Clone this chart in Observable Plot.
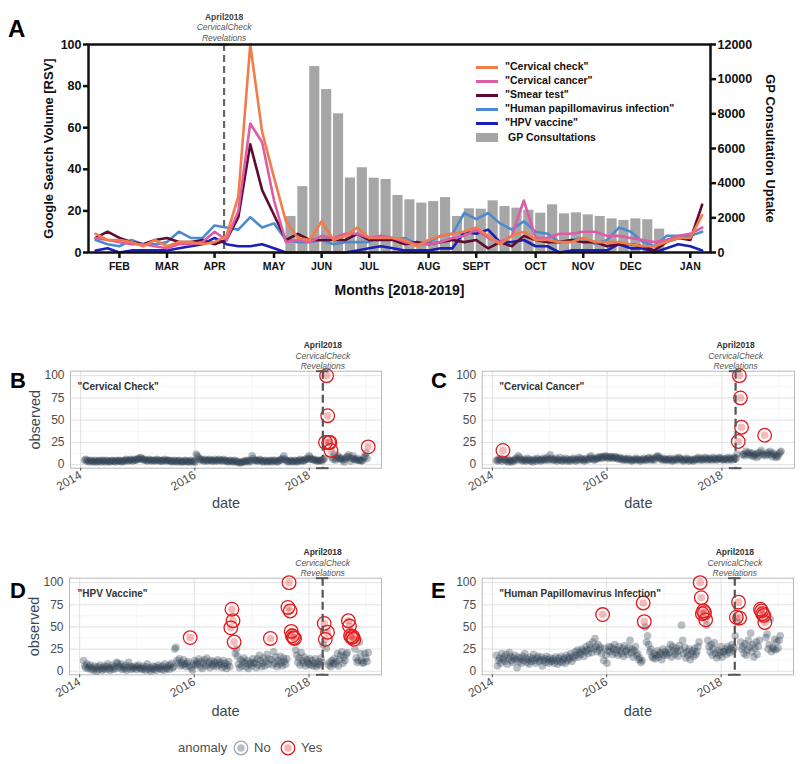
<!DOCTYPE html>
<html><head><meta charset="utf-8">
<script src="https://cdn.jsdelivr.net/npm/d3@7"></script>
<script src="https://cdn.jsdelivr.net/npm/@observablehq/plot@0.6"></script>
<style>
body{margin:0;background:#fff;}
#root{position:relative;width:800px;height:764px;background:#fff;font-family:"Liberation Sans",Arial,Helvetica,sans-serif;overflow:hidden}
.abs{position:absolute;white-space:nowrap;line-height:1}
</style></head><body><div id="root"></div>
<script>
// ---------- Panel A data (weekly, 2018-2019) ----------
const seriesNames = ['"Cervical check"', '"Cervical cancer"', '"Smear test"', '"Human papillomavirus infection"', '"HPV vaccine"'];
const seriesColors = ["#F37B4A", "#DE5BA6", "#5E0B32", "#4C8BD0", "#1B1FB5"];
const cervicalCheck = [9,6,6,5,3,6,3,5,5,4,5,8, 27,100,58,36,15, 7,6,15,6,8,12,7,7,7,6,3,6,8,9,10,12,8,4,8,10,6,6,5,5,7,5,5,5,4,3,3,5,7,7,18];
const cervicalCancer = [7,6,5,4,4,3,2,4,4,5,10,6, 20,62,53,25,5, 6,5,8,7,9,9,7,8,7,5,4,4,5,7,8,11,7,5,8,25,7, 7,9,9,10,10,8,8,7,6,5,6,8,9,12];
const smearTest = [7,10,7,5,4,6,7,5,5,6,4,6, 17,52,30,18,6, 9,6,6,6,6,9,6,6,6,4,5,4,5,6,5,6,2,5,3,8,6,5,5,6,5,5,3,4,4,3,1,5,7,6,23];
const hpvInfection = [6,4,3,6,4,4,5,10,7,7,13,12, 11,17,12,14,6, 5,5,6,4,5,5,5,8,6,7,4,5,8,9,19,16,19,14,11,15,10,9,5,6,7,4,6,12,10,5,3,8,8,8,10];
const hpvVaccine = [1,2,0,1,1,1,1,2,3,4,7,4, 3,3,4,2,0, 0,0,0,0,0,1,2,3,2,1,1,1,2,2,10,9,11,5,5,6,3,3,0,1,1,1,1,4,2,2,0,2,4,3,1];
const gpLabel = "GP Consultations";
const gpStartWeek = 16;
const gpConsultations = [2080,3800,10730,9400,8000,4300,4890,4290,4210,3290,3040,2850,2940,3170,2080,2520,2500,2980,2650,2560,2440,2270,2750,2230,2290,2170,2080,1940,1850,1940,1890,1350];
const monthLabels = ["FEB","MAR","APR","MAY","JUN","JUL","AUG","SEPT","OCT","NOV","DEC","JAN"];
const monthWeeks = [2,6,10,15,19,23,28,32,37,41,45,50];
const rsvTicks = [0,20,40,60,80,100];
const gpTicks = [0,2000,4000,6000,8000,10000,12000];
const aprilWeek = 10.8;
const annotationLines = ["April2018", "CervicalCheck", "Revelations"];

// ---------- Panels B-E data (weekly Google Trends, 2014-2019) ----------
const trendStart = new Date(Date.UTC(2014, 0, 26));
const eventDate = new Date(Date.UTC(2018, 2, 29));
const cervicalCheckTrend = [
  5,6,4,5,3,4,5,4,3,4,5,3,4, 4,5,3,4,5,4,3,5,4,4,3,4,5, 4,4,3,5,4,4,5,4,3,4,5,4,6, 5,4,5,6,5,4,6,5,5,6,7,6,8,
  7,6,5,6,5,4,5,6,5,4,5,5,4, 5,6,5,4,5,4,4,5,6,4,5,5,4, 5,4,3,4,5,4,3,4,5,4,3,4,3, 4,5,4,3,4,3,5,4,3,4,3,12,10,
  8,6,5,6,5,4,6,5,4,5,6,5,4, 5,4,6,5,4,5,6,5,4,5,6,4,5, 4,3,4,5,4,3,4,5,3,4,3,2,3, 2,3,4,3,4,5,4,3,5,4,10,7,5,
  5,4,5,4,6,5,4,3,4,5,4,3,4, 5,4,3,5,4,5,4,3,4,5,6,5,7, 10,6,5,4,3,4,5,4,3,4,5,4,3, 4,5,6,4,5,4,5,6,7,6,10,8,6,
  6,5,6,5,4,5,4,5,5,4,6,7,25, 100,55,25,25,16,8,6,12,5,7,10,7,8, 6,7,5,3,6,8,9,11,8,4,7,10,6, 6,5,7,5,5,5,4,5,8,9,13,7,20];
const cervicalCheckAnomalies = [220,221,222,223,224,225,259];
const cervicalCancerTrend = [
  5,4,6,5,7,4,16,6,5,4,6,3,5, 4,3,5,4,6,7,5,10,8,6,5,4,6, 5,4,7,5,6,4,5,3,6,5,4,7,6, 5,4,6,5,7,5,6,8,5,6,11,7,5,
  6,5,7,4,6,5,8,5,4,6,5,7,4, 6,5,4,6,5,7,6,4,5,6,8,5,7, 6,5,4,6,7,5,6,8,10,7,6,5,7, 6,8,7,9,8,7,9,8,10,9,8,7,9,
  8,9,7,8,9,8,7,6,8,7,6,5,7, 6,5,6,7,5,6,4,5,6,5,7,6,5, 6,4,5,6,7,5,6,5,7,8,6,5,7, 6,5,8,9,10,8,7,6,5,7,6,5,6,
  5,6,7,5,4,6,5,7,6,5,8,7,6, 5,4,6,5,7,6,4,5,6,5,4,6,5, 7,6,8,5,6,7,5,6,8,7,5,6,7, 6,5,8,6,7,5,6,7,8,6,7,5,6,
  6,7,5,8,6,7,5,6,8,7,7,12,26, 100,75,42,11,12,10,15,13,11,14,12,10,13, 9,11,12,8,13,10,14,16,12,11,33,10,12, 14,11,15,12,9,13,11,8,10,9,12,14,15];
const cervicalCancerAnomalies = [6,220,221,222,223,244];
const hpvVaccineTrend = [
  12,6,4,8,3,5,7,2,4,1,6,3,0, 5,2,7,4,1,3,6,2,5,8,3,1,4, 7,2,5,3,10,9,6,4,8,2,5,3,7, 1,4,10,6,2,5,3,4,6,2,5,7,3,
  4,2,6,3,1,5,8,2,4,0,3,6,2, 5,1,4,7,3,5,2,6,1,8,4,3,6, 2,7,9,4,5,25,27,12,9,14,6,10,7, 13,8,5,9,11,6,38,4,1,8,12,7,10,
  8,14,5,11,3,9,13,6,15,7,10,4,12, 8,6,11,9,5,13,7,10,8,4,12,6,9, 3,7,11,5,49,70,57,33,20,25,17,8,4, 13,6,11,15,9,5,12,3,8,10,6,14,9,
  10,4,14,7,18,12,5,9,15,6,11,19,8, 14,37,13,7,22,9,16,5,12,8,17,10,6, 15,11,8,14,72,100,68,45,40,38,37,24,18, 10,15,7,21,12,9,16,6,13,10,8,14,7,
  12,6,9,14,5,8,11,7,15,10,30,54,36, 26,44,7,10,5,12,9,14,8,11,20,6,13, 18,22,9,16,12,19,21,57,51,40,38,39,36, 25,15,10,12,33,20,12,9,10,20,15,11,21];
const hpvVaccineAnomalies = [97,134,135,136,137,170,186,187,188,189,190,191,192,219,220,222,241,242,243,244,245,246];
const hpvInfectionTrend = [
  18,6,12,15,9,20,13,16,11,19,8,14,21, 17,12,10,15,18,13,4,16,11,14,9,17,12, 20,15,10,13,8,16,11,14,19,12,9,15,17, 11,13,16,6,12,14,10,17,13,9,15,11,12,
  14,9,16,12,8,15,11,17,10,13,15,9,18, 12,16,14,20,11,17,15,22,18,24,16,21,19, 25,23,17,22,28,24,20,30,26,21,33,25,37, 28,22,30,24,27,20,64,12,26,18,9,23,28,
  22,27,19,25,30,21,24,18,28,23,20,26,17, 29,22,24,19,27,35,21,25,16,23,28,18,20, 13,15,10,12,77,56,50,33,40,30,22,25,17, 15,20,14,18,23,16,19,21,13,25,18,22,20,
  18,25,21,30,16,28,23,19,26,22,17,29,24, 52,35,20,27,15,22,18,25,13,20,23,17,26, 19,22,28,33,100,83,65,68,66,58,52,35,28, 22,30,18,25,32,20,15,24,18,21,28,16,22,
  22,25,19,28,24,21,26,30,23,27,40,61,55, 78,60,33,25,28,20,31,18,24,35,27,43,22, 30,16,26,33,19,28,35,70,68,65,63,55,38, 42,25,30,59,22,27,25,36,24,33,26,35,40];
const hpvInfectionAnomalies = [97,134,135,186,187,188,189,190,191,219,221,222,241,242,243,244,245];
const trendYTicks = [0,25,50,75,100];
const trendYMinor = [12.5,37.5,62.5,87.5];
const trendYears = [2014,2016,2018];
const trendYearsMinor = [2015,2017,2019];
const legendTitle = "anomaly";
const legendLabels = ["No","Yes"];

// ---------- layout helpers ----------
const root = document.getElementById("root");
const FONT = '"Liberation Sans", Arial, Helvetica, sans-serif';
function place(el, left, top) {
  el.style.position = "absolute"; el.style.left = left + "px"; el.style.top = top + "px";
  el.style.overflow = "visible"; root.appendChild(el); return el;
}
function label(text, left, top, css) {
  const d = document.createElement("div"); d.className = "abs"; d.textContent = text;
  d.style.left = left + "px"; d.style.top = top + "px"; Object.assign(d.style, css || {});
  root.appendChild(d); return d;
}

// ---------- Panel A ----------
const gpPerRsv = gpTicks[gpTicks.length - 1] / rsvTicks[rsvTicks.length - 1];
const gpRows = gpConsultations.map((v, i) => ({week: gpStartWeek + i, gp: v}));
const seriesData = [cervicalCheck, cervicalCancer, smearTest, hpvInfection, hpvVaccine];
const drawOrder = [3, 4, 2, 1, 0];

const panelA = Plot.plot({
  width: 800, height: 310,
  marginLeft: 88, marginRight: 90, marginTop: 44, marginBottom: 58,
  x: {domain: [-0.6, 51.7]},
  y: {domain: [0, 100]},
  style: {fontFamily: FONT, overflow: "visible", background: "transparent"},
  marks: [
    Plot.rect(gpRows, {x1: "week", x2: d => d.week + 0.85, y1: () => 0, y2: d => d.gp / gpPerRsv, fill: "#A6A6A6"}),
    Plot.ruleX([aprilWeek], {stroke: "#666", strokeWidth: 2.2, strokeDasharray: "7,4"}),
    Plot.ruleY([0, 100], {x1: () => aprilWeek - 0.45, x2: () => aprilWeek + 0.45, stroke: "#666", strokeWidth: 2}),
    ...drawOrder.map(s => Plot.line(seriesData[s].map((v, w) => ({week: w, value: v})),
      {x: "week", y: "value", stroke: seriesColors[s], strokeWidth: 2.6, strokeLinejoin: "round"})),
    Plot.frame({stroke: "#111", strokeWidth: 2.5}),
    Plot.axisY(rsvTicks, {anchor: "left", tickSize: 5, tickPadding: 2, fontSize: 12.5, fontWeight: "bold", color: "#111", strokeWidth: 2.5, label: null}),
    Plot.axisY(gpTicks.map(t => t / gpPerRsv), {anchor: "right", tickSize: 5, tickPadding: 2, tickFormat: d => String(Math.round(d * gpPerRsv)), fontSize: 12.5, fontWeight: "bold", color: "#111", strokeWidth: 2.5, label: null}),
    Plot.axisX(monthWeeks, {anchor: "bottom", tickSize: 6, tickPadding: 4, tickFormat: d => monthLabels[monthWeeks.indexOf(d)], fontSize: 10.5, fontWeight: "bold", color: "#111", strokeWidth: 2.5, label: null}),
    Plot.text(["Google Search Volume [RSV]"], {frameAnchor: "left", dx: -40, rotate: -90, textAnchor: "middle", text: d => d, fontSize: 13, fontWeight: "bold", fill: "#111"}),
    Plot.text(["GP Consultation Uptake"], {frameAnchor: "right", dx: 60, rotate: 90, textAnchor: "middle", text: d => d, fontSize: 13, fontWeight: "bold", fill: "#111"}),
    Plot.text(["Months [2018-2019]"], {frameAnchor: "bottom", dy: 42, text: d => d, fontSize: 14, fontWeight: "bold", fill: "#111"}),
    Plot.text([annotationLines[0]], {x: () => aprilWeek, frameAnchor: "top", dy: -31, text: d => d, fontSize: 8.5, fontWeight: "bold", fill: "#444"}),
    Plot.text([annotationLines[1]], {x: () => aprilWeek, frameAnchor: "top", dy: -20.5, text: d => d, fontSize: 8.5, fontStyle: "italic", fill: "#555"}),
    Plot.text([annotationLines[2]], {x: () => aprilWeek, frameAnchor: "top", dy: -10, text: d => d, fontSize: 8.5, fontStyle: "italic", fill: "#555"})
  ]
});
place(panelA, 0, 0);

// Panel A legend
seriesNames.forEach((name, i) => {
  const cy = 67 + 14.1 * i;
  const sw = document.createElement("div");
  Object.assign(sw.style, {position: "absolute", left: "476px", top: (cy - 1.5) + "px", width: "22px", height: "3px", background: seriesColors[i]});
  root.appendChild(sw);
  label(name, 505, cy - 6, {fontSize: "10.5px", fontWeight: "bold", color: "#111"});
});
{
  const cy = 67 + 14.1 * 5;
  const sw = document.createElement("div");
  Object.assign(sw.style, {position: "absolute", left: "476px", top: (cy - 4.5) + "px", width: "22px", height: "9px", background: "#A6A6A6"});
  root.appendChild(sw);
  label(gpLabel, 508, cy - 6, {fontSize: "10.5px", fontWeight: "bold", color: "#111"});
}

// ---------- Panels B-E ----------
const SLATE = "#2c3e50", RED = "#e31a1c";
const trendXDomain = [new Date(Date.UTC(2013, 9, 28)), new Date(Date.UTC(2019, 3, 8))];
const trendYDomain = [-4, 105];
const yearDate = y => new Date(Date.UTC(y, 0, 1));
const capHalf = 40;

function trendPanel(cfg) {
  const rows = cfg.values.map((v, i) => ({date: d3.utcDay.offset(trendStart, 7 * i), value: v, anomaly: cfg.anomalies.includes(i)}));
  const normal = rows.filter(d => !d.anomaly), flagged = rows.filter(d => d.anomaly);
  const marks = [
    Plot.gridY(trendYMinor, {stroke: "#eeeeee", strokeOpacity: 1, strokeWidth: 0.6}),
    Plot.gridX(trendYearsMinor.map(yearDate), {stroke: "#eeeeee", strokeOpacity: 1, strokeWidth: 0.6}),
    Plot.gridY(trendYTicks, {stroke: "#dedede", strokeOpacity: 1, strokeWidth: 0.9}),
    Plot.gridX(trendYears.map(yearDate), {stroke: "#dedede", strokeOpacity: 1, strokeWidth: 0.9}),
    Plot.frame({stroke: "#b8b8b8", strokeWidth: 1}),
    Plot.axisY(trendYTicks, {anchor: "left", tickSize: 0, tickPadding: 6, fontSize: 12, color: "#4d4d4d", label: null}),
    Plot.axisX(trendYears.map(yearDate), {anchor: "bottom", tickSize: 3, tickPadding: 3, tickRotate: -30, tickFormat: d3.utcFormat("%Y"), fontSize: 12, color: "#4d4d4d", label: null}),
    Plot.text(["date"], {frameAnchor: "bottom", dy: cfg.dateDy, text: d => d, fontSize: 14.5, fill: "#3c4753"}),
    Plot.dot(normal, {x: "date", y: "value", r: 3.8, fill: SLATE, fillOpacity: 0.33}),
    Plot.dot(flagged, {x: "date", y: "value", r: 3.8, fill: RED, fillOpacity: 0.3}),
    Plot.dot(flagged, {x: "date", y: "value", r: 6.8, fill: "none", stroke: RED, strokeWidth: 1.3}),
    Plot.ruleX([eventDate], {stroke: "#555", strokeWidth: 2.2, strokeDasharray: "8,4"}),
    Plot.ruleY(trendYDomain, {x1: () => d3.utcDay.offset(eventDate, -capHalf), x2: () => d3.utcDay.offset(eventDate, capHalf), stroke: "#555", strokeWidth: 2}),
    Plot.text([annotationLines[0]], {x: () => eventDate, frameAnchor: "top", dy: -29, text: d => d, fontSize: 8.5, fontWeight: "bold", fill: "#333"}),
    Plot.text([annotationLines[1]], {x: () => eventDate, frameAnchor: "top", dy: -18.5, text: d => d, fontSize: 8.5, fontStyle: "italic", fill: "#555"}),
    Plot.text([annotationLines[2]], {x: () => eventDate, frameAnchor: "top", dy: -8.5, text: d => d, fontSize: 8.5, fontStyle: "italic", fill: "#555"}),
    Plot.text([cfg.title], {frameAnchor: "top-left", dx: cfg.titleDx, dy: 12, text: d => d, textAnchor: "start", fontSize: 10, fontWeight: "bold", fill: "#333"})
  ];
  if (cfg.yLabel) marks.push(Plot.text(["observed"], {frameAnchor: "left", dx: -35, rotate: -90, textAnchor: "middle", text: d => d, fontSize: 14.5, fill: "#3c4753"}));
  const p = Plot.plot({
    width: 400, height: cfg.height,
    marginTop: cfg.mt, marginBottom: cfg.mb, marginLeft: cfg.ml, marginRight: cfg.mr,
    x: {type: "utc", domain: trendXDomain},
    y: {domain: trendYDomain},
    style: {fontFamily: FONT, overflow: "visible", background: "transparent"},
    marks
  });
  place(p, cfg.left, cfg.top);
}

trendPanel({values: cervicalCheckTrend, anomalies: cervicalCheckAnomalies, title: '"Cervical Check"', titleDx: 7, yLabel: true, dateDy: 40,
  left: 0, top: 335, height: 185, mt: 35.7, mb: 52.3, ml: 70, mr: 19});
trendPanel({values: cervicalCancerTrend, anomalies: cervicalCancerAnomalies, title: '"Cervical Cancer"', titleDx: 17, yLabel: false, dateDy: 40,
  left: 400, top: 335, height: 185, mt: 35.7, mb: 52.3, ml: 81.7, mr: 6});
trendPanel({values: hpvVaccineTrend, anomalies: hpvVaccineAnomalies, title: '"HPV Vaccine"', titleDx: 8, yLabel: true, dateDy: 41,
  left: 0, top: 525, height: 200, mt: 52.7, mb: 50.7, ml: 69, mr: 19});
trendPanel({values: hpvInfectionTrend, anomalies: hpvInfectionAnomalies, title: '"Human Papillomavirus Infection"', titleDx: 17, yLabel: false, dateDy: 41,
  left: 400, top: 525, height: 200, mt: 52.7, mb: 50.7, ml: 81.7, mr: 7});

// Panel letters
const letterCss = {fontWeight: "bold", color: "#000"};
label("A", 8, 17, Object.assign({fontSize: "24px"}, letterCss));
label("B", 10, 370, Object.assign({fontSize: "22px"}, letterCss));
label("C", 431, 370, Object.assign({fontSize: "22px"}, letterCss));
label("D", 10, 580, Object.assign({fontSize: "22px"}, letterCss));
label("E", 431, 580, Object.assign({fontSize: "22px"}, letterCss));

// Bottom legend
label(legendTitle, 178, 741, {fontSize: "13px", color: "#4d4d4d"});
const legendColors = [SLATE, RED];
const legendX = [232, 279];
const legendTextX = [254, 301];
legendLabels.forEach((lab, i) => {
  const ns = "http://www.w3.org/2000/svg";
  const svg = document.createElementNS(ns, "svg");
  svg.setAttribute("width", 18); svg.setAttribute("height", 18);
  const c1 = document.createElementNS(ns, "circle");
  c1.setAttribute("cx", 9); c1.setAttribute("cy", 9); c1.setAttribute("r", 3.8);
  c1.setAttribute("fill", legendColors[i]); c1.setAttribute("fill-opacity", 0.33);
  const c2 = document.createElementNS(ns, "circle");
  c2.setAttribute("cx", 9); c2.setAttribute("cy", 9); c2.setAttribute("r", 6.8);
  c2.setAttribute("fill", "none"); c2.setAttribute("stroke", legendColors[i]);
  c2.setAttribute("stroke-opacity", i === 0 ? 0.45 : 1); c2.setAttribute("stroke-width", 1.3);
  svg.appendChild(c1); svg.appendChild(c2);
  place(svg, legendX[i], 739);
  label(lab, legendTextX[i], 741, {fontSize: "13px", color: "#4d4d4d"});
});
</script></body></html>
